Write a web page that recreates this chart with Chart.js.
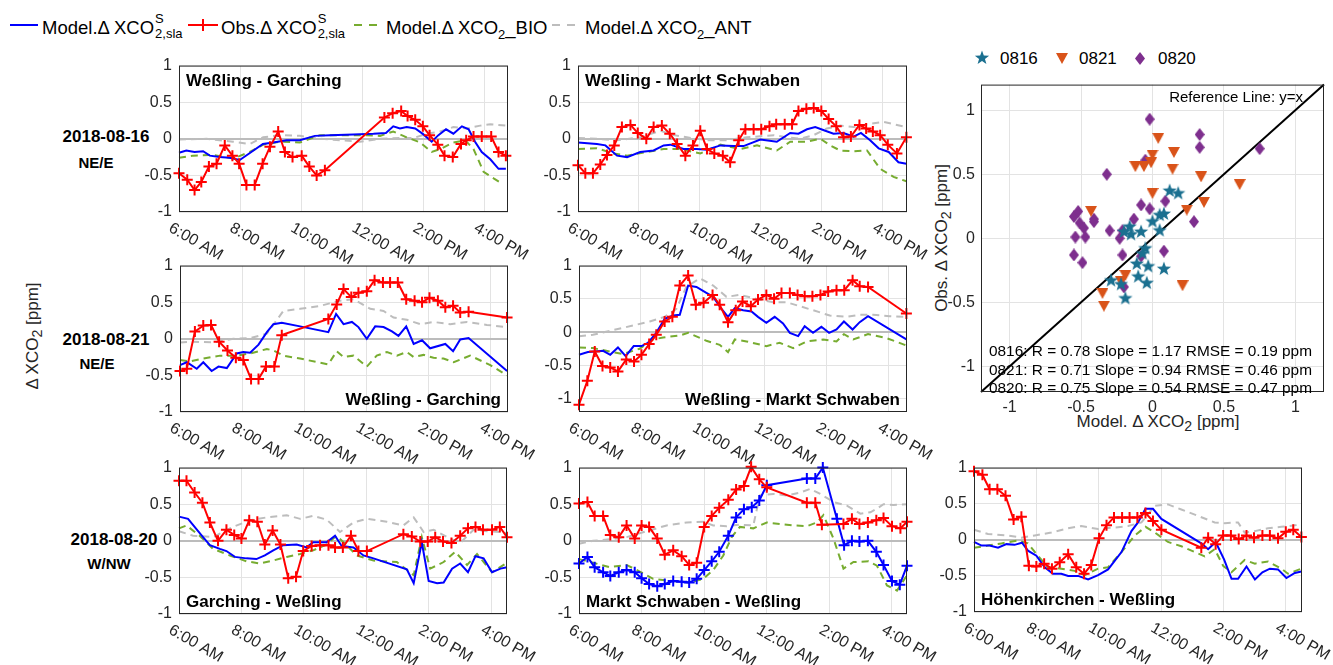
<!DOCTYPE html>
<html>
<head>
<meta charset="utf-8">
<title>Delta XCO2 time series</title>
<script src="https://cdn.jsdelivr.net/npm/chart.js@4.4.1/dist/chart.umd.min.js"></script>
<style>
  html, body { margin: 0; padding: 0; background: #fff; }
  body { width: 1333px; height: 665px; position: relative; overflow: hidden;
         font-family: "Liberation Sans", Arial, sans-serif; color: #000; }
  canvas { position: absolute; }
  .ln { position: absolute; top: 24px; height: 0; border-top: 2px solid; }
  .vx { position: absolute; top: 19px; width: 2px; height: 12px; }
  .lt { position: absolute; top: 19px; font-size: 18.5px; line-height: 18.5px; white-space: nowrap; }
  .ss { position: relative; display: inline-block; width: 28px; height: 1px; }
  .ss .sp, .ss .sb { position: absolute; left: 1px; font-size: 13px; line-height: 13px; }
  .ss .sp { top: -21px; }
  .ss .sb { top: -6px; }
  .s2 { font-size: 13px; position: relative; top: 5px; }
  .c { position: absolute; white-space: nowrap; transform: translate(-50%, -50%); }
  .rl { font-weight: bold; }
  .yl { font-size: 17px; color: #262626; transform: translate(-50%, -50%) rotate(-90deg); }
  .xl { font-size: 17px; color: #262626; }
  .sl { position: absolute; font-size: 17px; line-height: 17px; white-space: nowrap; }
</style>
</head>
<body>

<!-- legend -->
<div class="ln" style="left:10px;width:28px;border-top-color:#0000ff"></div>
<span class="lt" style="left:42px">Model.Δ XCO<span class="ss"><span class="sp">S</span><span class="sb">2,sla</span></span></span>
<div class="ln" style="left:188px;width:30px;border-top-color:#ff0000"></div>
<div class="vx" style="left:202px;background:#ff0000"></div>
<span class="lt" style="left:221px">Obs.Δ XCO<span class="ss"><span class="sp">S</span><span class="sb">2,sla</span></span></span>
<div class="ln" style="left:354px;width:8px;border-top-color:#77ac30"></div>
<div class="ln" style="left:369px;width:8px;border-top-color:#77ac30"></div>
<span class="lt" style="left:386px">Model.Δ XCO<span class="s2">2</span>_BIO</span>
<div class="ln" style="left:552px;width:8px;border-top-color:#bdbdbd"></div>
<div class="ln" style="left:567px;width:8px;border-top-color:#bdbdbd"></div>
<span class="lt" style="left:585px">Model.Δ XCO<span class="s2">2</span>_ANT</span>

<!-- row labels -->
<div class="c rl" style="left:106px;top:137px;font-size:17px">2018-08-16</div>
<div class="c rl" style="left:96px;top:162px;font-size:15px">NE/E</div>
<div class="c rl" style="left:106px;top:340px;font-size:17px">2018-08-21</div>
<div class="c rl" style="left:97px;top:363px;font-size:15px">NE/E</div>
<div class="c rl" style="left:114px;top:540px;font-size:17px">2018-08-20</div>
<div class="c rl" style="left:109px;top:563px;font-size:15px">W/NW</div>

<div class="c yl" style="left:34px;top:336px">Δ XCO<sub>2</sub> [ppm]</div>
<div class="c yl" style="left:943px;top:238px">Obs. Δ XCO<sub>2</sub> [ppm]</div>
<div class="c xl" style="left:1158px;top:423px">Model. Δ XCO<sub>2</sub> [ppm]</div>

<!-- scatter legend -->
<span class="sl" style="left:1000px;top:50px">0816</span>
<span class="sl" style="left:1079px;top:50px">0821</span>
<span class="sl" style="left:1158px;top:50px">0820</span>

<script>
// ---- axes ----
const X_TICKS = [6, 8, 10, 12, 14, 16];
const X_TICK_LABELS = ['6:00 AM', '8:00 AM', '10:00 AM', '12:00 AM', '2:00 PM', '4:00 PM'];
const Y_TICKS = [-1, -0.5, 0, 0.5, 1];
const SC_TICKS = [-1, -0.5, 0, 0.5, 1];

// ---- 2018-08-16  Weßling - Garching ----
const P1_OBS_T = [6.00,6.27,6.51,6.73,6.98,7.23,7.50,7.75,7.97,8.21,8.48,8.74,8.98,9.25,9.47,9.72,10.02,10.27,10.51,10.78,12.73,13.00,13.28,13.49,13.74,13.99,14.21,14.48,14.70,14.97,15.24,15.41,15.65,15.92,16.23,16.47,16.71];
const P1_OBS_V = [-0.47,-0.56,-0.70,-0.59,-0.38,-0.34,-0.09,-0.23,-0.34,-0.63,-0.63,-0.34,-0.11,0.10,-0.18,-0.25,-0.23,-0.38,-0.50,-0.43,0.29,0.35,0.38,0.31,0.26,0.17,0.05,-0.08,-0.23,-0.25,-0.07,-0.02,0.03,0.03,0.03,-0.18,-0.23];
const P1_MOD_T = [6.00,6.24,6.51,6.79,7.01,7.33,7.66,7.99,8.37,8.75,9.09,9.52,9.96,10.45,10.95,11.71,12.37,12.78,13.02,13.24,13.46,13.74,14.01,14.28,14.50,14.75,14.99,15.27,15.49,15.70,15.92,16.20,16.47,16.71];
const P1_MOD_V = [-0.19,-0.16,-0.18,-0.17,-0.23,-0.25,-0.26,-0.29,-0.18,-0.07,-0.05,-0.02,-0.02,0.04,0.05,0.06,0.07,0.08,0.17,0.14,0.16,0.14,0.06,-0.04,0.05,0.13,0.07,0.17,0.13,-0.04,-0.18,-0.28,-0.41,-0.41];
const P1_BIO_T = [6.00,6.46,7.12,7.77,8.32,8.76,9.30,9.96,10.62,11.27,11.93,12.59,13.02,13.46,13.90,14.28,14.56,14.99,15.38,15.65,15.98,16.31,16.58];
const P1_BIO_V = [-0.26,-0.23,-0.22,-0.27,-0.18,-0.08,-0.04,-0.05,0.05,0.05,0.05,0.04,0.10,0.02,-0.05,-0.18,-0.14,-0.05,-0.02,-0.14,-0.45,-0.54,-0.61];
const P1_ANT_T = [6.00,6.90,7.77,8.32,8.76,9.30,9.96,10.62,11.27,11.93,12.59,13.24,13.68,14.12,14.56,14.99,15.43,15.87,16.20,16.71];
const P1_ANT_V = [-0.01,0.00,-0.04,-0.07,0.02,0.05,0.04,0.00,-0.02,-0.04,0.00,0.01,0.01,0.07,0.10,0.16,0.14,0.18,0.20,0.18];

// ---- 2018-08-16  Weßling - Markt Schwaben ----
const P2_OBS_T = [6.00,6.24,6.49,6.73,6.95,7.19,7.44,7.72,7.96,8.24,8.48,8.75,9.01,9.25,9.52,9.77,10.01,10.23,10.47,10.75,10.99,11.27,11.49,11.76,12.01,12.28,12.50,12.78,13.02,13.23,13.49,13.73,13.98,14.22,14.47,14.71,14.95,15.23,15.45,15.67,15.91,16.16,16.46,16.77];
const P2_OBS_V = [-0.36,-0.47,-0.47,-0.35,-0.22,-0.09,0.16,0.19,0.08,0.00,0.16,0.18,0.07,-0.07,-0.23,-0.09,0.11,-0.14,-0.20,-0.23,-0.32,-0.02,0.13,0.13,0.13,0.17,0.20,0.20,0.20,0.38,0.41,0.42,0.38,0.27,0.17,0.02,0.03,0.19,0.14,0.10,0.05,-0.08,-0.20,0.02];
const P2_MOD_T = [6.00,6.62,6.90,7.28,7.61,8.04,8.48,8.81,9.03,9.46,9.90,10.23,10.67,11.10,11.43,11.98,12.52,12.96,13.23,13.51,13.78,14.11,14.38,14.71,15.04,15.28,15.58,15.86,16.19,16.51,16.77];
const P2_MOD_V = [-0.05,-0.07,-0.09,-0.23,-0.25,-0.18,-0.16,-0.09,-0.08,-0.14,-0.14,-0.15,-0.09,-0.10,-0.10,-0.01,-0.04,0.08,0.07,0.13,0.16,0.11,0.07,0.08,0.03,0.08,-0.02,-0.13,-0.18,-0.32,-0.34];
const P2_BIO_T = [6.00,6.62,7.17,7.61,8.26,8.81,9.36,10.01,10.67,11.32,11.87,12.52,12.96,13.51,13.95,14.27,14.60,15.04,15.48,15.91,16.35,16.77];
const P2_BIO_V = [-0.14,-0.13,-0.20,-0.23,-0.18,-0.14,-0.14,-0.20,-0.08,-0.14,-0.09,-0.16,-0.04,-0.04,0.00,-0.09,-0.16,-0.17,-0.16,-0.41,-0.52,-0.58];
const P2_ANT_T = [6.00,6.62,7.28,8.04,8.70,9.14,9.57,10.23,10.89,11.54,12.42,12.85,13.29,13.73,14.16,14.60,15.04,15.48,16.02,16.35,16.77];
const P2_ANT_V = [0.01,0.00,-0.02,0.02,0.11,0.05,0.02,-0.02,-0.02,0.02,0.05,0.02,0.00,0.05,0.14,0.18,0.16,0.20,0.23,0.20,0.16];

// ---- 2018-08-21  Weßling - Garching ----
const P3_OBS_T = [6.00,6.22,6.48,6.75,7.00,7.26,7.53,7.80,8.04,8.29,8.53,8.77,9.04,9.28,10.78,11.05,11.27,11.52,11.75,12.02,12.27,12.54,12.77,13.02,13.29,13.56,13.80,14.04,14.31,14.55,14.80,15.03,15.30,16.54];
const P3_OBS_V = [-0.44,-0.41,0.10,0.18,0.19,-0.04,-0.16,-0.26,-0.29,-0.55,-0.55,-0.38,-0.38,0.05,0.27,0.47,0.68,0.57,0.63,0.65,0.80,0.77,0.77,0.77,0.54,0.52,0.50,0.56,0.52,0.43,0.45,0.36,0.37,0.29];
const P3_MOD_T = [6.00,6.22,6.54,6.75,7.02,7.24,7.51,7.83,8.04,8.26,8.53,8.80,9.01,9.28,9.87,10.78,11.03,11.27,11.54,11.75,12.02,12.29,12.56,12.83,13.04,13.29,13.53,13.80,14.06,14.55,14.80,15.03,15.30,16.54];
const P3_MOD_V = [-0.36,-0.32,-0.41,-0.32,-0.44,-0.38,-0.40,-0.20,-0.18,-0.19,-0.08,0.09,0.20,0.22,0.17,0.09,0.34,0.20,0.23,0.16,0.00,0.17,0.16,0.10,0.04,0.17,-0.07,-0.02,-0.13,-0.07,-0.17,-0.01,0.01,-0.44];
const P3_BIO_T = [6.00,6.32,6.75,7.29,7.83,8.26,8.80,9.01,9.33,9.87,10.78,11.05,11.27,11.59,12.02,12.34,12.67,12.99,13.31,13.53,13.85,14.17,14.49,14.82,15.35,16.00,16.54];
const P3_BIO_V = [-0.29,-0.31,-0.27,-0.23,-0.23,-0.20,-0.14,-0.16,-0.23,-0.27,-0.35,-0.17,-0.25,-0.23,-0.38,-0.23,-0.18,-0.23,-0.18,-0.25,-0.22,-0.26,-0.27,-0.32,-0.23,-0.36,-0.50];
const P3_ANT_T = [6.00,6.43,7.08,7.72,8.26,8.80,9.33,9.87,10.52,11.16,11.59,12.13,12.56,12.88,13.31,13.74,14.17,14.71,15.25,15.89,16.54];
const P3_ANT_V = [-0.05,-0.04,-0.05,0.00,0.01,0.07,0.38,0.41,0.45,0.52,0.54,0.41,0.38,0.29,0.26,0.20,0.23,0.20,0.23,0.19,0.16];

// ---- 2018-08-21  Weßling - Markt Schwaben ----
const P4_OBS_T = [6.00,6.27,6.51,6.76,7.01,7.26,7.53,7.78,8.02,8.27,8.50,8.77,9.02,9.26,9.53,9.78,10.03,10.32,10.55,10.82,11.07,11.29,11.56,11.79,12.06,12.31,12.55,12.82,13.07,13.30,13.55,13.81,14.06,14.33,14.58,14.85,15.08,15.35,16.59];
const P4_OBS_V = [-1.09,-0.73,-0.29,-0.51,-0.53,-0.59,-0.41,-0.44,-0.34,-0.18,-0.04,0.16,0.23,0.70,0.85,0.41,0.44,0.56,0.41,0.15,0.33,0.46,0.39,0.49,0.56,0.50,0.59,0.59,0.56,0.54,0.54,0.56,0.61,0.63,0.63,0.78,0.69,0.68,0.28];
const P4_MOD_T = [6.00,6.29,6.51,6.78,7.01,7.26,7.51,7.77,8.02,8.23,8.50,8.77,9.04,9.26,9.53,9.80,10.12,10.34,10.61,10.82,11.04,11.31,11.58,11.79,12.06,12.33,12.60,12.82,13.09,13.30,13.57,13.84,14.09,14.33,14.57,14.85,15.08,15.35,16.59];
const P4_MOD_V = [-0.34,-0.30,-0.29,-0.28,-0.34,-0.23,-0.36,-0.21,-0.21,-0.16,-0.01,0.20,0.25,0.26,0.70,0.68,0.59,0.53,0.35,0.23,0.36,0.33,0.31,0.23,0.14,0.23,0.13,-0.01,-0.06,0.09,-0.01,0.08,-0.01,0.04,0.16,0.04,0.15,0.24,-0.11];
const P4_BIO_T = [6.00,6.45,6.88,7.42,7.96,8.39,8.72,9.26,9.53,10.12,10.55,10.82,11.04,11.42,12.06,12.49,12.93,13.36,13.90,14.33,14.57,14.87,15.35,15.95,16.59];
const P4_BIO_V = [-0.23,-0.24,-0.28,-0.33,-0.25,-0.11,-0.08,-0.05,-0.01,-0.13,-0.19,-0.30,-0.11,-0.14,-0.21,-0.16,-0.24,-0.14,-0.11,-0.14,-0.03,-0.11,-0.03,-0.09,-0.20];
const P4_ANT_T = [6.00,6.45,7.10,7.75,8.29,8.77,9.15,9.47,9.91,10.34,10.77,11.20,11.74,12.28,12.71,13.14,13.57,14.11,14.65,15.08,15.51,16.05,16.59];
const P4_ANT_V = [-0.06,-0.04,0.03,0.10,0.16,0.23,0.35,0.68,0.81,0.70,0.53,0.56,0.50,0.45,0.45,0.39,0.33,0.25,0.23,0.26,0.26,0.24,0.23];

// ---- 2018-08-20  Garching - Weßling ----
const P5_OBS_T = [6.00,6.24,6.50,6.75,6.99,7.25,7.52,7.77,8.00,8.25,8.51,8.75,9.00,9.25,9.50,9.75,9.98,10.25,10.52,10.79,11.00,11.25,11.51,11.75,12.02,13.19,13.46,13.73,13.97,14.21,14.46,14.73,15.01,15.26,15.50,15.74,16.03,16.28,16.51];
const P5_OBS_V = [0.82,0.82,0.66,0.52,0.25,0.00,0.15,0.08,0.03,0.28,0.26,-0.05,0.14,-0.05,-0.51,-0.49,-0.14,-0.07,-0.06,-0.06,-0.09,-0.09,0.07,-0.14,-0.14,0.09,0.06,-0.01,-0.01,0.05,-0.01,-0.03,0.07,0.17,0.19,0.15,0.15,0.19,0.05];
const P5_MOD_T = [6.00,6.29,6.77,6.99,7.31,7.52,7.79,8.16,8.48,8.75,9.02,9.34,9.77,10.09,10.30,10.73,11.00,11.21,11.59,11.91,12.23,13.30,13.52,13.78,14.00,14.27,14.48,14.75,15.01,15.26,15.50,15.76,16.03,16.30,16.51];
const P5_MOD_V = [0.33,0.30,0.05,-0.06,-0.11,-0.14,-0.22,-0.24,-0.25,-0.20,-0.13,-0.06,-0.05,-0.09,-0.02,-0.02,0.07,-0.07,-0.09,-0.20,-0.24,-0.39,-0.58,-0.02,-0.55,-0.58,-0.57,-0.38,-0.31,-0.43,-0.21,-0.24,-0.43,-0.38,-0.36];
const P5_BIO_T = [6.00,6.24,6.66,7.09,7.63,8.16,8.59,9.02,9.45,9.88,10.30,10.73,11.05,11.37,11.70,12.23,12.98,13.52,13.78,14.05,14.48,14.85,15.23,15.55,16.03,16.51];
const P5_BIO_V = [0.17,0.21,0.07,-0.11,-0.20,-0.28,-0.31,-0.27,-0.22,-0.18,-0.13,-0.05,0.07,-0.06,-0.20,-0.27,-0.29,-0.47,0.05,-0.38,-0.29,-0.15,-0.33,-0.18,-0.43,-0.30];
const P5_ANT_T = [6.00,6.45,7.09,7.73,8.27,8.81,9.45,9.88,10.30,10.73,11.16,11.59,12.02,12.66,13.19,13.52,13.84,14.16,14.59,15.01,15.44,15.87,16.30,16.51];
const P5_ANT_V = [0.13,0.07,0.05,0.19,0.28,0.32,0.35,0.30,0.34,0.29,0.12,0.25,0.30,0.26,0.21,0.32,0.12,0.15,0.05,-0.03,0.15,0.13,0.12,0.10];

// ---- 2018-08-20  Markt Schwaben - Weßling ----
const P6_OBS_T = [6.00,6.27,6.50,6.77,7.00,7.27,7.52,7.78,8.00,8.24,8.50,8.74,9.01,9.28,9.52,9.76,10.00,10.24,10.48,10.77,11.02,11.27,11.50,11.76,12.00,13.28,13.55,13.76,14.45,14.72,14.96,15.23,15.50,15.73,16.00,16.27,16.48];
const P6_OBS_V = [0.51,0.53,0.34,0.34,0.08,0.05,0.21,0.03,0.21,0.19,0.03,-0.19,-0.13,-0.21,-0.33,-0.30,0.19,0.34,0.45,0.56,0.70,0.75,1.01,0.84,0.73,0.52,0.52,0.22,0.23,0.30,0.23,0.25,0.28,0.31,0.20,0.17,0.26];
const P6_MOD_T = [6.00,6.27,6.50,6.77,7.00,7.27,7.52,7.78,8.00,8.24,8.50,8.74,9.01,9.28,9.52,9.76,10.00,10.24,10.48,10.77,11.02,11.27,11.52,11.76,12.00,13.28,13.55,13.79,14.24,14.47,14.72,14.96,15.23,15.50,15.73,16.00,16.25,16.48];
const P6_MOD_V = [-0.31,-0.22,-0.36,-0.43,-0.48,-0.43,-0.40,-0.43,-0.51,-0.59,-0.62,-0.59,-0.55,-0.56,-0.57,-0.52,-0.40,-0.28,-0.15,0.07,0.32,0.43,0.46,0.55,0.76,0.85,0.85,1.00,0.30,-0.06,0.00,-0.01,0.00,-0.15,-0.33,-0.55,-0.60,-0.34];
const P6_BIO_T = [6.00,6.45,6.98,7.52,7.94,8.37,9.01,9.54,9.97,10.29,10.61,10.88,11.14,11.57,12.00,12.42,12.85,13.28,13.60,13.81,14.13,14.45,14.77,15.25,15.52,15.84,16.16,16.48];
const P6_BIO_V = [-0.25,-0.30,-0.36,-0.33,-0.42,-0.52,-0.55,-0.57,-0.52,-0.40,-0.20,0.05,0.19,0.17,0.25,0.23,0.21,0.20,0.25,0.35,0.03,-0.38,-0.29,-0.28,-0.34,-0.61,-0.68,-0.47];
const P6_ANT_T = [6.00,6.45,6.98,7.52,8.16,8.80,9.44,9.97,10.29,10.72,11.14,11.57,11.78,12.21,12.64,13.07,13.39,13.71,14.13,14.56,14.99,15.31,15.52,15.73,16.05,16.48];
const P6_ANT_V = [-0.04,0.00,0.02,0.05,0.13,0.21,0.25,0.26,0.21,0.20,0.22,0.21,0.62,0.64,0.62,0.66,0.71,0.64,0.53,0.48,0.37,0.39,0.44,0.50,0.49,0.50];

// ---- 2018-08-20  Höhenkirchen - Weßling ----
const P7_OBS_T = [6.00,6.27,6.50,6.75,7.01,7.27,7.52,7.76,8.00,8.25,8.50,8.75,9.02,9.28,9.53,9.76,10.01,10.25,10.49,10.75,10.99,11.24,11.50,11.74,12.01,13.29,13.51,13.75,13.99,14.24,14.49,14.74,14.98,15.25,15.49,15.75,16.00,16.24,16.50];
const P7_OBS_V = [0.95,0.90,0.70,0.70,0.61,0.28,0.32,-0.36,-0.37,-0.33,-0.40,-0.31,-0.20,-0.38,-0.47,-0.35,0.02,0.20,0.31,0.31,0.31,0.31,0.37,0.26,0.14,-0.11,0.03,-0.06,0.06,0.06,0.01,0.06,0.03,0.06,0.06,0.02,0.11,0.14,0.04];
const P7_MOD_T = [6.00,6.24,6.50,6.77,7.04,7.30,7.54,7.73,8.00,8.27,8.53,8.80,9.02,9.34,9.66,9.98,10.30,10.73,11.05,11.26,11.50,11.74,12.01,13.29,13.51,13.75,14.02,14.26,14.47,14.74,15.01,15.25,15.49,15.75,16.02,16.29,16.50];
const P7_MOD_V = [-0.03,-0.08,-0.08,-0.11,-0.06,-0.07,-0.04,-0.15,-0.22,-0.38,-0.47,-0.47,-0.50,-0.50,-0.55,-0.49,-0.41,-0.17,0.12,0.24,0.43,0.43,0.29,-0.05,-0.13,-0.03,-0.27,-0.54,-0.54,-0.37,-0.55,-0.45,-0.40,-0.41,-0.53,-0.46,-0.44];
const P7_BIO_T = [6.00,6.45,6.88,7.41,7.73,8.05,8.37,8.80,9.23,9.55,9.98,10.30,10.73,11.16,11.50,11.80,12.22,12.65,13.08,13.40,13.72,13.99,14.26,14.68,15.01,15.43,15.86,16.07,16.50];
const P7_BIO_V = [-0.11,-0.08,-0.05,-0.01,-0.05,-0.22,-0.38,-0.40,-0.43,-0.49,-0.40,-0.38,-0.17,0.06,0.18,0.10,-0.03,-0.09,-0.17,-0.23,-0.13,-0.36,-0.45,-0.28,-0.33,-0.30,-0.40,-0.47,-0.40];
const P7_ANT_T = [6.00,6.45,7.09,7.52,7.95,8.48,9.02,9.44,9.98,10.51,10.94,11.37,11.80,12.22,12.65,13.19,13.72,14.04,14.47,14.68,15.01,15.43,15.86,16.29,16.50];
const P7_ANT_V = [0.14,0.08,0.06,0.03,0.06,0.10,0.16,0.19,0.15,0.17,0.19,0.24,0.47,0.49,0.42,0.33,0.24,0.23,0.24,0.10,0.12,0.16,0.18,0.20,0.22];

// ---- scatter: model vs obs ----
const S0816_X = [0.12,0.18,0.08,0.05,0.00,0.05,-0.08,-0.16,-0.15,-0.20,-0.05,-0.07,-0.11,-0.03,0.08,-0.10,-0.04,-0.29,-0.22,-0.19];
const S0816_Y = [0.37,0.35,0.19,0.18,0.13,0.06,0.05,0.09,0.03,0.05,-0.08,-0.12,-0.20,-0.22,-0.24,-0.30,-0.35,-0.33,-0.36,-0.47];
const S0821_X = [0.04,0.15,0.00,-0.01,-0.12,-0.06,0.14,0.34,0.61,0.00,0.36,0.24,-0.43,-0.19,-0.22,-0.35,-0.34,0.21];
const S0821_Y = [0.78,0.67,0.65,0.59,0.56,0.56,0.54,0.48,0.42,0.35,0.28,0.22,0.21,-0.29,-0.34,-0.43,-0.53,-0.37];
const S0820_X = [-0.02,-0.05,0.33,0.33,0.75,-0.32,0.09,-0.08,-0.02,-0.13,-0.55,-0.52,-0.51,-0.48,-0.41,-0.41,-0.30,-0.54,-0.47,-0.21,-0.23,0.29,-0.08,0.08,-0.55,-0.49,-0.21,-0.20];
const S0820_Y = [0.93,0.61,0.81,0.71,0.70,0.50,0.29,0.26,0.23,0.15,0.17,0.21,0.12,0.08,0.15,0.13,0.06,0.01,0.01,0.06,0.00,0.13,-0.14,-0.10,-0.13,-0.19,-0.13,-0.38];
const REF_X = [-1.2, 1.2];
const REF_Y = [-1.2, 1.2];
const STATS_LINES = [
    '0816: R = 0.78 Slope = 1.17 RMSE = 0.19 ppm',
    '0821: R = 0.71 Slope = 0.94 RMSE = 0.46 ppm',
    '0820: R = 0.75 Slope = 0.54 RMSE = 0.47 ppm'
];

// colours
const BLUE = '#0000ff', RED = '#ff0000', GREEN = '#77ac30', GREY = '#bdbdbd';
const C0816 = '#1b7090', C0821 = '#d95319', C0820 = '#7e2f8e';
const GRID = '#e3e3e3', ZERO = '#bcbcbc', AX = '#262626';
const FONT = '"Liberation Sans", Arial, sans-serif';

Chart.defaults.font.family = FONT;
Chart.defaults.color = AX;

function xy(T, V) {
    return T.map((t, i) => ({ x: t, y: V[i] }));
}

// plain number labels: 1, 0.5, 0, -0.5, -1
const plainTick = v => String(v);

// box + rotated time labels + panel name
const panelDeco = {
    id: 'panelDeco',
    afterDraw(chart, args, opts) {
        const { ctx, chartArea: a } = chart;
        ctx.save();
        ctx.strokeStyle = AX;
        ctx.lineWidth = 1;
        ctx.strokeRect(a.left + 0.5, a.top + 0.5, a.width - 1, a.height - 1);

        if (opts.timeLabels) {
            ctx.fillStyle = AX;
            ctx.font = '16px ' + FONT;
            ctx.textAlign = 'left';
            ctx.textBaseline = 'top';
            X_TICKS.forEach((v, i) => {
                const px = chart.scales.x.getPixelForValue(v);
                ctx.save();
                ctx.translate(px - 5, a.bottom + 8);
                ctx.rotate(30 * Math.PI / 180);
                ctx.fillText(X_TICK_LABELS[i], 0, 0);
                ctx.restore();
            });
        }

        if (opts.title) {
            ctx.fillStyle = '#000';
            ctx.font = 'bold 17px ' + FONT;
            ctx.textBaseline = 'middle';
            if (opts.corner === 'tl') {
                ctx.textAlign = 'left';
                ctx.fillText(opts.title, a.left + 7, a.top + 16);
            } else if (opts.corner === 'br') {
                ctx.textAlign = 'right';
                ctx.fillText(opts.title, a.right - 7, a.bottom - 12);
            } else {
                ctx.textAlign = 'left';
                ctx.fillText(opts.title, a.left + 7, a.bottom - 12);
            }
        }

        if (opts.refText) {
            ctx.fillStyle = '#000';
            ctx.font = '15px ' + FONT;
            ctx.textAlign = 'right';
            ctx.textBaseline = 'middle';
            ctx.fillText(opts.refText, a.right - 21, a.top + 13);
            ctx.font = '15.4px ' + FONT;
            ctx.textAlign = 'left';
            opts.stats.forEach((s, i) => {
                ctx.fillText(s, a.left + 8, a.bottom - 40 + i * 18.3);
            });
        }
        ctx.restore();
    }
};

function addCanvas(left, top, w, h) {
    const cv = document.createElement('canvas');
    cv.width = w;
    cv.height = h;
    cv.style.left = left + 'px';
    cv.style.top = top + 'px';
    cv.style.width = w + 'px';
    cv.style.height = h + 'px';
    document.body.appendChild(cv);
    return cv;
}

/**
 * one time-series panel, box = plot area [left, top, width, height]
 */
function buildPanel(p) {
    const [L, T, W, H] = p.box;
    const PL = 60, PT = 15, PR = 80, PB = 75;
    const cv = addCanvas(L - PL, T - PT, W + PL + PR, H + PT + PB);

    const lineSet = (label, data, color, extra) => Object.assign({
        label, data, borderColor: color, backgroundColor: color,
        pointBorderColor: color, borderWidth: 2, tension: 0,
        pointRadius: 0, clip: false
    }, extra || {});

    const cross = { pointStyle: 'cross', pointRadius: 5.5, pointBorderWidth: 2 };

    new Chart(cv, {
        type: 'line',
        data: {
            datasets: [
                lineSet('Obs', xy(p.obs[0], p.obs[1]), RED, cross),
                lineSet('Model', xy(p.mod[0], p.mod[1]), BLUE, p.modMarkers ? cross : null),
                lineSet('BIO', xy(p.bio[0], p.bio[1]), GREEN, { borderDash: [7, 5] }),
                lineSet('ANT', xy(p.ant[0], p.ant[1]), GREY, { borderDash: [7, 5] })
            ]
        },
        options: {
            responsive: false,
            animation: false,
            events: [],
            layout: { padding: { left: 0, top: PT, right: PR, bottom: PB } },
            plugins: {
                legend: { display: false },
                tooltip: { enabled: false },
                panelDeco: { title: p.title, corner: p.corner, timeLabels: true }
            },
            scales: {
                x: {
                    type: 'linear', min: 6, max: p.xMax,
                    afterBuildTicks: s => { s.ticks = X_TICKS.map(v => ({ value: v })); },
                    afterFit: s => { s.height = 0; },
                    ticks: { display: false },
                    grid: { color: GRID, drawTicks: false },
                    border: { display: false }
                },
                y: {
                    type: 'linear', min: p.yMin, max: 1,
                    afterBuildTicks: s => { s.ticks = Y_TICKS.map(v => ({ value: v })); },
                    afterFit: s => { s.width = PL; },
                    ticks: { padding: 7, color: AX, font: { size: 16 }, callback: plainTick },
                    grid: {
                        color: c => (c.tick && c.tick.value === 0 ? ZERO : GRID),
                        lineWidth: c => (c.tick && c.tick.value === 0 ? 2 : 1),
                        drawTicks: false
                    },
                    border: { display: false }
                }
            }
        },
        plugins: [panelDeco]
    });
}

const PANELS = [
    { box: [179, 64, 329, 148], xMax: 16.78, yMin: -1, title: 'Weßling - Garching', corner: 'tl',
      obs: [P1_OBS_T, P1_OBS_V], mod: [P1_MOD_T, P1_MOD_V], bio: [P1_BIO_T, P1_BIO_V], ant: [P1_ANT_T, P1_ANT_V] },
    { box: [578, 64, 329, 148], xMax: 16.79, yMin: -1, title: 'Weßling - Markt Schwaben', corner: 'tl',
      obs: [P2_OBS_T, P2_OBS_V], mod: [P2_MOD_T, P2_MOD_V], bio: [P2_BIO_T, P2_BIO_V], ant: [P2_ANT_T, P2_ANT_V] },
    { box: [180, 264, 328, 148], xMax: 16.57, yMin: -1, title: 'Weßling - Garching', corner: 'br',
      obs: [P3_OBS_T, P3_OBS_V], mod: [P3_MOD_T, P3_MOD_V], bio: [P3_BIO_T, P3_BIO_V], ant: [P3_ANT_T, P3_ANT_V] },
    { box: [579, 264, 328, 148], xMax: 16.61, yMin: -1.2, title: 'Weßling - Markt Schwaben', corner: 'br',
      obs: [P4_OBS_T, P4_OBS_V], mod: [P4_MOD_T, P4_MOD_V], bio: [P4_BIO_T, P4_BIO_V], ant: [P4_ANT_T, P4_ANT_V] },
    { box: [179, 466, 328, 148], xMax: 16.51, yMin: -1, title: 'Garching - Weßling', corner: 'bl',
      obs: [P5_OBS_T, P5_OBS_V], mod: [P5_MOD_T, P5_MOD_V], bio: [P5_BIO_T, P5_BIO_V], ant: [P5_ANT_T, P5_ANT_V] },
    { box: [579, 466, 328, 148], xMax: 16.48, yMin: -1, title: 'Markt Schwaben - Weßling', corner: 'bl', modMarkers: true,
      obs: [P6_OBS_T, P6_OBS_V], mod: [P6_MOD_T, P6_MOD_V], bio: [P6_BIO_T, P6_BIO_V], ant: [P6_ANT_T, P6_ANT_V] },
    { box: [974, 466, 328, 146], xMax: 16.52, yMin: -1, title: 'Höhenkirchen - Weßling', corner: 'bl',
      obs: [P7_OBS_T, P7_OBS_V], mod: [P7_MOD_T, P7_MOD_V], bio: [P7_BIO_T, P7_BIO_V], ant: [P7_ANT_T, P7_ANT_V] }
];

PANELS.forEach(buildPanel);

// ---- scatter markers ----
function markerCanvas(w, h, color, path) {
    const c = document.createElement('canvas');
    c.width = w;
    c.height = h;
    const g = c.getContext('2d');
    g.fillStyle = color;
    g.beginPath();
    path(g, w, h);
    g.closePath();
    g.fill();
    return c;
}

function starPath(g, w, h) {
    const cx = w / 2, cy = h / 2, ro = 7.5, ri = 3.1;
    for (let i = 0; i < 10; i++) {
        const r = i % 2 ? ri : ro;
        const ang = -Math.PI / 2 + i * Math.PI / 5;
        const px = cx + r * Math.cos(ang), py = cy + r * Math.sin(ang);
        if (i === 0) g.moveTo(px, py); else g.lineTo(px, py);
    }
}
function triPath(g, w, h) {
    g.moveTo(0, 0); g.lineTo(w, 0); g.lineTo(w / 2, h);
}
function diaPath(g, w, h) {
    g.moveTo(w / 2, 0); g.lineTo(w, h / 2); g.lineTo(w / 2, h); g.lineTo(0, h / 2);
}

const STAR = markerCanvas(16, 16, C0816, starPath);
const TRI = markerCanvas(12, 11, C0821, triPath);
const DIA = markerCanvas(10, 13, C0820, diaPath);

// legend markers for the scatter
[[STAR, 982, 58], [TRI, 1062, 58], [DIA, 1140, 58]].forEach(([m, cx, cy]) => {
    const c = addCanvas(cx - m.width / 2, cy - m.height / 2, m.width, m.height);
    c.getContext('2d').drawImage(m, 0, 0);
});

// ---- scatter chart, plot area 981..1324 x 84..392 ----
(function buildScatter() {
    const L = 981, T = 84, W = 343, H = 308;
    const PL = 50, PT = 15, PR = 9, XB = 25;
    const cv = addCanvas(L - PL, T - PT, W + PL + PR, H + PT + XB);
    const pts = (data, img, label) => ({
        label, data, pointStyle: img, pointRadius: 6, clip: false
    });

    new Chart(cv, {
        type: 'scatter',
        data: {
            datasets: [
                pts(xy(S0816_X, S0816_Y), STAR, '0816'),
                pts(xy(S0821_X, S0821_Y), TRI, '0821'),
                pts(xy(S0820_X, S0820_Y), DIA, '0820'),
                {
                    label: 'Reference Line', type: 'line', data: xy(REF_X, REF_Y),
                    showLine: true, borderColor: '#000', borderWidth: 2, pointRadius: 0, clip: false
                }
            ]
        },
        options: {
            responsive: false,
            animation: false,
            events: [],
            layout: { padding: { left: 0, top: PT, right: PR, bottom: 0 } },
            plugins: {
                legend: { display: false },
                tooltip: { enabled: false },
                panelDeco: { refText: 'Reference Line: y=x', stats: STATS_LINES }
            },
            scales: {
                x: {
                    type: 'linear', min: -1.2, max: 1.2,
                    afterBuildTicks: s => { s.ticks = SC_TICKS.map(v => ({ value: v })); },
                    afterFit: s => { s.height = XB; },
                    ticks: { padding: 6, color: AX, font: { size: 16 }, callback: plainTick },
                    grid: { color: GRID, drawTicks: false },
                    border: { display: false }
                },
                y: {
                    type: 'linear', min: -1.2, max: 1.2,
                    afterBuildTicks: s => { s.ticks = SC_TICKS.map(v => ({ value: v })); },
                    afterFit: s => { s.width = PL; },
                    ticks: { padding: 6, color: AX, font: { size: 16 }, callback: plainTick },
                    grid: { color: GRID, drawTicks: false },
                    border: { display: false }
                }
            }
        },
        plugins: [panelDeco]
    });
})();
</script>
</body>
</html>
